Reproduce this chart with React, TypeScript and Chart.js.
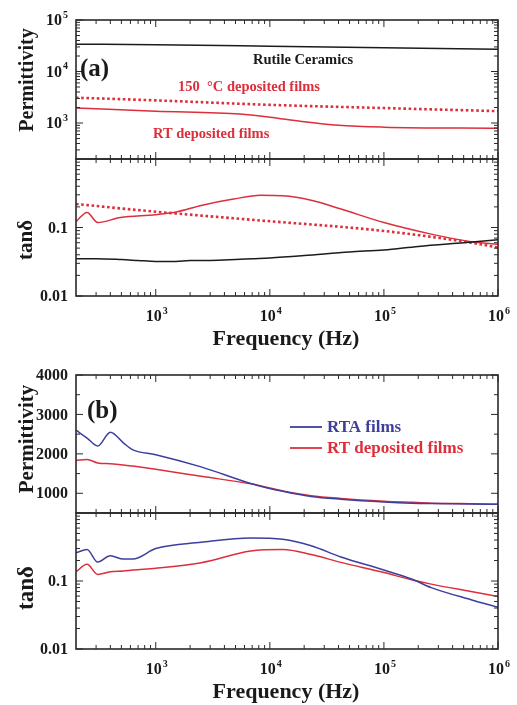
import React, { useEffect, useRef } from "react";
import { Chart, registerables } from "chart.js";
Chart.register(...registerables);

// ---------- data ----------
const FREQ_MIN = 200;
const FREQ_MAX = 1e6;
const X_TICKS = [1e3, 1e4, 1e5, 1e6];

// (a) permittivity
const A_RUTILE_PERM_F = [200, 1000, 1e4, 1e5, 1e6];
const A_RUTILE_PERM = [34000, 33000, 31000, 29000, 27000];
const A_150C_PERM_F = [200, 1000, 1e4, 1e5, 1e6];
const A_150C_PERM = [3100, 2750, 2250, 1950, 1700];
const A_RT_PERM_F = [200, 1000, 5500, 1e4, 19000, 40000, 1e5, 1e6];
const A_RT_PERM = [1950, 1700, 1500, 1300, 1070, 900, 830, 790];
const A_PERM_TICKS = [1e3, 1e4, 1e5];

// (a) tan delta
const A_RT_TAN_F = [200, 250, 310, 490, 1000, 1550, 2500, 4800, 8300, 13000, 23000, 42000, 1e5, 2.6e5, 5.8e5, 1e6];
const A_RT_TAN = [0.122, 0.166, 0.118, 0.14, 0.154, 0.17, 0.21, 0.26, 0.295, 0.29, 0.25, 0.186, 0.118, 0.08, 0.062, 0.057];
const A_150C_TAN_F = [200, 1000, 6800, 1e5, 5.8e5, 1e6];
const A_150C_TAN = [0.22, 0.17, 0.13, 0.089, 0.06, 0.051];
const A_RUTILE_TAN_F = [200, 300, 500, 700, 1000, 1500, 2000, 3000, 5000, 7000, 1e4, 2e4, 5e4, 1e5, 2e5, 5e5, 1e6];
const A_RUTILE_TAN = [0.035, 0.035, 0.034, 0.033, 0.032, 0.032, 0.033, 0.033, 0.034, 0.035, 0.036, 0.039, 0.044, 0.047, 0.053, 0.06, 0.066];
const TAN_TICKS = [0.01, 0.1];

// (b)
const B_F = [200, 250, 310, 400, 520, 630, 1000, 2500, 6800, 13000, 23000, 42000, 1e5, 1.75e5, 2.6e5, 5.8e5, 1e6];
const B_RTA_PERM = [2600, 2400, 2200, 2550, 2280, 2100, 1980, 1670, 1250, 1050, 920, 850, 780, 750, 740, 730, 720];
const B_RT_PERM = [1830, 1860, 1770, 1750, 1720, 1690, 1610, 1430, 1240, 1060, 940, 870, 800, 770, 750, 735, 725];
const B_RTA_TAN = [0.26, 0.29, 0.19, 0.235, 0.21, 0.21, 0.3, 0.37, 0.43, 0.41, 0.33, 0.225, 0.145, 0.107, 0.08, 0.053, 0.041];
const B_RT_TAN = [0.137, 0.176, 0.125, 0.137, 0.14, 0.145, 0.154, 0.186, 0.276, 0.29, 0.245, 0.188, 0.133, 0.104, 0.09, 0.07, 0.059];
const B_PERM_TICKS = [1000, 2000, 3000, 4000];

// ---------- style ----------
const SERIF = "'Liberation Serif', 'Times New Roman', serif";
const RED = "#dd2f3b";
const BLUE = "#3e3f9c";
const BLACK = "#1c1c1c";
const FRAME = "#2a2a2a";
const W = 517;

type Series = { f: number[]; v: number[]; color: string; dotted?: boolean };
type Txt = { text: string; x: number; y: number; color?: string; size: number; align?: CanvasTextAlign; rotate?: boolean };
type Panel = {
  top: number;
  height: number;
  padTop: number;
  padBottom: number;
  yType: "logarithmic" | "linear";
  yMin: number;
  yMax: number;
  series: Series[];
  yTicks: number[];
  yMinor: number[];
  yLabel: "pow" | "num";
  xLabels: boolean;
  texts: Txt[];
  legend?: { text: string; color: string; y: number }[];
};

function logMinor(min: number, max: number): number[] {
  const out: number[] = [];
  for (let e = Math.floor(Math.log10(min)); e <= Math.ceil(Math.log10(max)); e++) {
    for (let m = 1; m <= 9; m++) {
      const v = m * Math.pow(10, e);
      if (v > min * 1.0001 && v < max * 0.9999) out.push(v);
    }
  }
  return out;
}

function drawPow(ctx: CanvasRenderingContext2D, exp: string, x: number, y: number, align: "center" | "right") {
  const big = `bold 16px ${SERIF}`;
  const small = `bold 10px ${SERIF}`;
  ctx.font = big;
  const w1 = ctx.measureText("10").width;
  ctx.font = small;
  const w2 = ctx.measureText(exp).width;
  const total = w1 + w2 + 1;
  const x0 = align === "center" ? x - total / 2 : x - total;
  ctx.textAlign = "left";
  ctx.textBaseline = "middle";
  ctx.font = big;
  ctx.fillText("10", x0, y);
  ctx.font = small;
  ctx.fillText(exp, x0 + w1 + 1, y - 6);
}

function makePlugin(p: Panel) {
  return {
    id: "decor",
    afterDraw(chart: any) {
      const ctx: CanvasRenderingContext2D = chart.ctx;
      const a = chart.chartArea;
      const xs = chart.scales.x;
      const ys = chart.scales.y;
      ctx.save();
      // ticks
      ctx.strokeStyle = FRAME;
      ctx.lineWidth = 1;
      const xMinor = logMinor(FREQ_MIN, FREQ_MAX).filter((v) => !X_TICKS.includes(v));
      const tick = (x1: number, y1: number, x2: number, y2: number) => {
        ctx.beginPath();
        ctx.moveTo(x1, y1);
        ctx.lineTo(x2, y2);
        ctx.stroke();
      };
      X_TICKS.forEach((v) => {
        const x = xs.getPixelForValue(v);
        tick(x, a.bottom, x, a.bottom - 7);
        tick(x, a.top, x, a.top + 7);
      });
      xMinor.forEach((v) => {
        const x = xs.getPixelForValue(v);
        tick(x, a.bottom, x, a.bottom - 4);
        tick(x, a.top, x, a.top + 4);
      });
      p.yTicks.forEach((v) => {
        const y = ys.getPixelForValue(v);
        tick(a.left, y, a.left + 7, y);
        tick(a.right, y, a.right - 7, y);
      });
      p.yMinor.forEach((v) => {
        const y = ys.getPixelForValue(v);
        tick(a.left, y, a.left + 4, y);
        tick(a.right, y, a.right - 4, y);
      });
      // frame
      ctx.lineWidth = 1.6;
      ctx.strokeRect(a.left, a.top, a.right - a.left, a.bottom - a.top);
      // y tick labels
      ctx.fillStyle = "#1a1a1a";
      p.yTicks.forEach((v) => {
        const y = ys.getPixelForValue(v);
        if (p.yLabel === "pow") {
          drawPow(ctx, String(Math.round(Math.log10(v))), a.left - 8, y + 1, "right");
        } else {
          ctx.font = `bold 16px ${SERIF}`;
          ctx.textAlign = "right";
          ctx.textBaseline = "middle";
          ctx.fillText(String(v), a.left - 8, y + 1);
        }
      });
      // x tick labels
      if (p.xLabels) {
        X_TICKS.forEach((v) => {
          const x = xs.getPixelForValue(v);
          drawPow(ctx, String(Math.round(Math.log10(v))), x + 1, a.bottom + 21, "center");
        });
      }
      // texts
      p.texts.forEach((t) => {
        ctx.fillStyle = t.color || "#1a1a1a";
        ctx.font = `bold ${t.size}px ${SERIF}`;
        ctx.textBaseline = "middle";
        const y = t.y - p.top;
        if (t.rotate) {
          ctx.save();
          ctx.translate(t.x, y);
          ctx.rotate(-Math.PI / 2);
          ctx.textAlign = "center";
          ctx.fillText(t.text, 0, 0);
          ctx.restore();
        } else {
          ctx.textAlign = t.align || "left";
          ctx.fillText(t.text, t.x, y);
        }
      });
      // legend
      (p.legend || []).forEach((l) => {
        const y = l.y - p.top;
        ctx.strokeStyle = l.color;
        ctx.lineWidth = 1.8;
        tick(290, y, 322, y);
        ctx.fillStyle = l.color;
        ctx.font = `bold 17px ${SERIF}`;
        ctx.textAlign = "left";
        ctx.textBaseline = "middle";
        ctx.fillText(l.text, 327, y + 1);
      });
      ctx.restore();
    },
  };
}

const PANELS: Panel[] = [
  {
    top: 0,
    height: 180,
    padTop: 20,
    padBottom: 21,
    yType: "logarithmic",
    yMin: 200,
    yMax: 1e5,
    series: [
      { f: A_RUTILE_PERM_F, v: A_RUTILE_PERM, color: BLACK },
      { f: A_150C_PERM_F, v: A_150C_PERM, color: RED, dotted: true },
      { f: A_RT_PERM_F, v: A_RT_PERM, color: RED },
    ],
    yTicks: A_PERM_TICKS,
    yMinor: logMinor(200, 1e5).filter((v) => !A_PERM_TICKS.includes(v)),
    yLabel: "pow",
    xLabels: false,
    texts: [
      { text: "Permittivity", x: 28, y: 80, size: 20, rotate: true },
      { text: "(a)", x: 80, y: 70, size: 25 },
      { text: "Rutile Ceramics", x: 253, y: 60, size: 14.5 },
      { text: "150  °C deposited films", x: 178, y: 87, size: 14.5, color: RED },
      { text: "RT deposited films", x: 153, y: 134, size: 14.5, color: RED },
    ],
  },
  {
    top: 150,
    height: 205,
    padTop: 9,
    padBottom: 59,
    yType: "logarithmic",
    yMin: 0.01,
    yMax: 1,
    series: [
      { f: A_RUTILE_TAN_F, v: A_RUTILE_TAN, color: BLACK },
      { f: A_150C_TAN_F, v: A_150C_TAN, color: RED, dotted: true },
      { f: A_RT_TAN_F, v: A_RT_TAN, color: RED },
    ],
    yTicks: TAN_TICKS,
    yMinor: logMinor(0.01, 1).filter((v) => !TAN_TICKS.includes(v)),
    yLabel: "num",
    xLabels: true,
    texts: [
      { text: "tanδ", x: 27, y: 240, size: 21, rotate: true },
      { text: "Frequency (Hz)", x: 286, y: 339, size: 22, align: "center" },
    ],
  },
  {
    top: 355,
    height: 170,
    padTop: 20,
    padBottom: 12,
    yType: "linear",
    yMin: 500,
    yMax: 4000,
    series: [
      { f: B_F, v: B_RTA_PERM, color: BLUE },
      { f: B_F, v: B_RT_PERM, color: RED },
    ],
    yTicks: B_PERM_TICKS,
    yMinor: [1500, 2500, 3500],
    yLabel: "num",
    xLabels: false,
    texts: [
      { text: "Permittivity", x: 28, y: 439, size: 21, rotate: true },
      { text: "(b)", x: 87, y: 412, size: 25 },
    ],
    legend: [
      { text: "RTA films", color: BLUE, y: 427 },
      { text: "RT deposited films", color: RED, y: 448 },
    ],
  },
  {
    top: 500,
    height: 205,
    padTop: 13,
    padBottom: 56,
    yType: "logarithmic",
    yMin: 0.01,
    yMax: 1,
    series: [
      { f: B_F, v: B_RTA_TAN, color: BLUE },
      { f: B_F, v: B_RT_TAN, color: RED },
    ],
    yTicks: TAN_TICKS,
    yMinor: logMinor(0.01, 1).filter((v) => !TAN_TICKS.includes(v)),
    yLabel: "num",
    xLabels: true,
    texts: [
      { text: "tanδ", x: 27, y: 588, size: 23, rotate: true },
      { text: "Frequency (Hz)", x: 286, y: 692, size: 22, align: "center" },
    ],
  },
];

export default function App() {
  const refs = useRef<(HTMLCanvasElement | null)[]>([]);
  useEffect(() => {
    const charts = PANELS.map((p, i) => {
      const canvas = refs.current[i]!;
      return new Chart(canvas, {
        type: "line",
        data: {
          datasets: p.series.map((s) => ({
            data: s.f.map((f, k) => ({ x: f, y: s.v[k] })),
            borderColor: s.color,
            borderWidth: s.dotted ? 2.6 : 1.5,
            borderDash: s.dotted ? [2.6, 2.6] : [],
            pointRadius: 0,
            fill: false,
            cubicInterpolationMode: "monotone",
          })),
        } as any,
        options: {
          responsive: false,
          maintainAspectRatio: false,
          animation: false,
          events: [],
          layout: { padding: { left: 76, right: 19, top: p.padTop, bottom: p.padBottom } },
          plugins: { legend: { display: false }, tooltip: { enabled: false } },
          scales: {
            x: { type: "logarithmic", min: FREQ_MIN, max: FREQ_MAX, display: false },
            y: { type: p.yType, min: p.yMin, max: p.yMax, display: false },
          },
        } as any,
        plugins: [makePlugin(p)],
      });
    });
    return () => charts.forEach((c) => c.destroy());
  }, []);
  return (
    <div style={{ position: "fixed", left: 0, top: 0, width: W, height: 705, background: "#fff" }}>
      {PANELS.map((p, i) => (
        <canvas
          key={i}
          ref={(el) => {
            refs.current[i] = el;
          }}
          width={W}
          height={p.height}
          style={{ position: "absolute", left: 0, top: p.top, width: W, height: p.height, display: "block" }}
        />
      ))}
    </div>
  );
}
